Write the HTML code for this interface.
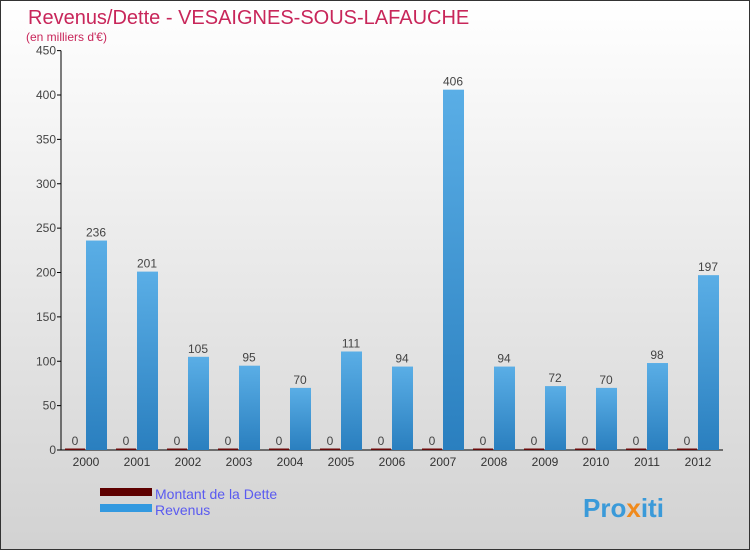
<!DOCTYPE html>
<html><head><meta charset="utf-8"><style>
body{margin:0;width:750px;height:550px;overflow:hidden;font-family:"Liberation Sans",sans-serif}
#c{position:relative;width:748px;height:548px;border:1px solid #333;background:linear-gradient(#ffffff,#d2d2d2)}
</style></head><body>
<div id="c">
<svg id="s" width="748" height="548" xmlns="http://www.w3.org/2000/svg">
<defs><linearGradient id="gb" x1="0" x2="0" y1="0" y2="1"><stop offset="0" stop-color="#5aaee6"/><stop offset="1" stop-color="#2a7fbf"/></linearGradient></defs>
<text x="27" y="23" font-size="20" fill="#c8265a">Revenus/Dette - VESAIGNES-SOUS-LAFAUCHE</text>
<text x="25" y="40" font-size="12" fill="#c8265a">(en milliers d'€)</text>
<g id="axes"></g><g id="bars"></g>
<rect x="99" y="487" width="52" height="8" fill="#5e0000"/>
<text x="154" y="498" font-size="14" fill="#5a5af0">Montant de la Dette</text>
<rect x="99" y="503" width="52" height="8" fill="#3399e0"/>
<text x="154" y="514" font-size="14" fill="#5a5af0">Revenus</text>
<text x="582" y="516" font-size="26" font-weight="bold" fill="#3a9ad9">Pro<tspan fill="#f08a1c">x</tspan>iti</text>
</svg></div>
<script>
const years=["2000","2001","2002","2003","2004","2005","2006","2007","2008","2009","2010","2011","2012"];
const revenus=[236,201,105,95,70,111,94,406,94,72,70,98,197];
const dette=[0,0,0,0,0,0,0,0,0,0,0,0,0];
const ticks=[0,50,100,150,200,250,300,350,400,450];
const NS="http://www.w3.org/2000/svg";
const y0=449,k=355/400;
const y=v=>y0-v*k;
const x=i=>84+i*51;
function mk(t,a,p){const e=document.createElementNS(NS,t);for(const n in a)e.setAttribute(n,a[n]);p.appendChild(e);return e;}
const ax=document.getElementById('axes'),bg=document.getElementById('bars');
let l=mk('line',{x1:60,y1:y(450),x2:60,y2:y0,stroke:'#000'},ax);


l=mk('line',{x1:60,y1:y0,x2:722,y2:y0,stroke:'#000'},ax);


ticks.forEach(t=>{
 const tk=mk('line',{x1:56,x2:60,y1:y(t),y2:y(t),stroke:'#000'},ax);
 
 
 const tx=mk('text',{x:55,y:y(t)+4,'font-size':12,'text-anchor':'end',fill:'#444'},ax);
 tx.textContent=t;
 
 
});
years.forEach((yr,i)=>{
 const c=x(i);
 const tx=mk('text',{x:c+1,y:y0+16,'font-size':12,'text-anchor':'middle',fill:'#333'},ax);
 tx.textContent=yr;
 
 
 const hd=Math.max(dette[i]*k,1.5);
 const d=mk('rect',{x:c-20,y:y0-hd,width:20,height:hd,fill:'#6b0a0a'},bg);
 
 
 const dl=mk('text',{x:c-10,y:y(dette[i])-5,'font-size':12,'text-anchor':'middle',fill:'#444'},bg);
 dl.textContent=dette[i];
 
 
 const r=mk('rect',{x:c+1,y:y(revenus[i]),width:21,height:revenus[i]*k,fill:'url(#gb)'},bg);
 
 
 const rl=mk('text',{x:c+11,y:y(revenus[i])-4,'font-size':12,'text-anchor':'middle',fill:'#444'},bg);
 rl.textContent=revenus[i];
 
 
});
</script>
</body></html>
